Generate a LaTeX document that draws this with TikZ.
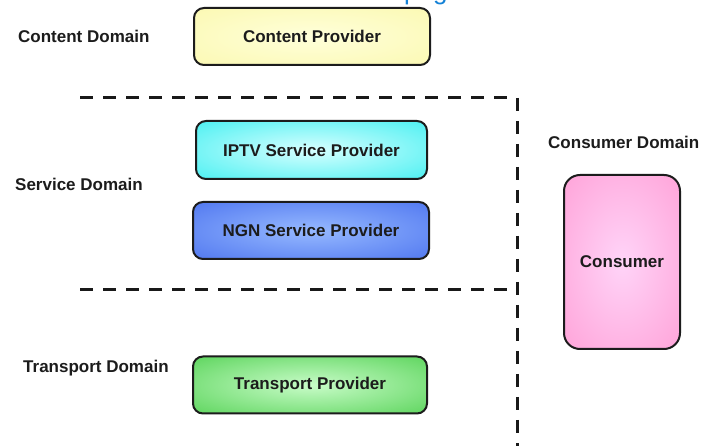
\documentclass[tikz,border=0pt]{standalone}
\usepackage{fontspec}
\setmainfont{Liberation Sans}
\usetikzlibrary{positioning}

% radial fills, lighter in the middle of each box
\pgfdeclareradialshading{yellowglow}{\pgfpoint{0bp}{0bp}}{%
  color(0bp)=(rgb,255:red,255;green,255;blue,218);
  color(46bp)=(rgb,255:red,250;green,247;blue,168);
  color(72bp)=(rgb,255:red,250;green,247;blue,168)}
\pgfdeclareradialshading{cyanglow}{\pgfpoint{0bp}{0bp}}{%
  color(0bp)=(rgb,255:red,215;green,255;blue,255);
  color(46bp)=(rgb,255:red,35;green,236;blue,238);
  color(72bp)=(rgb,255:red,35;green,236;blue,238)}
\pgfdeclareradialshading{blueglow}{\pgfpoint{0bp}{0bp}}{%
  color(0bp)=(rgb,255:red,150;green,185;blue,255);
  color(46bp)=(rgb,255:red,62;green,102;blue,236);
  color(72bp)=(rgb,255:red,62;green,102;blue,236)}
\pgfdeclareradialshading{greenglow}{\pgfpoint{0bp}{0bp}}{%
  color(0bp)=(rgb,255:red,200;green,252;blue,200);
  color(46bp)=(rgb,255:red,64;green,202;blue,64);
  color(72bp)=(rgb,255:red,64;green,202;blue,64)}
\pgfdeclareradialshading{pinkglow}{\pgfpoint{0bp}{0bp}}{%
  color(0bp)=(rgb,255:red,255;green,212;blue,248);
  color(46bp)=(rgb,255:red,255;green,150;blue,208);
  color(72bp)=(rgb,255:red,255;green,150;blue,208)}

\definecolor{inkdark}{RGB}{28,28,28}
\definecolor{linkblue}{RGB}{20,130,215}

\tikzset{
  domainlabel/.style={anchor=west, inner sep=0pt, text=inkdark,
    font=\fontsize{17}{20}\selectfont\bfseries},
  provider/.style={draw=inkdark, line width=2pt, rounded corners=10pt,
    minimum width=235pt, minimum height=57pt, inner sep=0pt, text=inkdark,
    font=\fontsize{17}{20}\selectfont\bfseries},
  divider/.style={draw=black!90, line width=3pt, dash pattern=on 13pt off 10pt}
}

\begin{document}
\begin{tikzpicture}[x=1pt, y=-1pt]
  \useasboundingbox[fill=white] (0,0) rectangle (710,446);

  % domain captions
  \node[domainlabel] (lcontent)   at (18,36)   {Content Domain};
  \node[domainlabel] (lservice)   at (15,184)  {Service Domain};
  \node[domainlabel] (ltransport) at (23,368)  {Transport Domain};
  \node[domainlabel] (lconsumer)  at (548,142) {Consumer Domain};

  % providers
  \node[provider, shading=yellowglow, minimum width=236pt, minimum height=57pt]
    (content) at (312,36.5) {Content Provider};
  \node[provider, shading=cyanglow, minimum width=231pt, minimum height=58pt]
    (iptv) at (311.5,150) {IPTV Service Provider};
  \node[provider, shading=blueglow, minimum width=236pt, minimum height=57pt]
    (ngn) at (311,230.5) {NGN Service Provider};
  \node[provider, shading=greenglow, minimum width=234pt, minimum height=57pt]
    (transport) at (310,385) {Transport Provider};

  % consumer
  \node[provider, shading=pinkglow, rounded corners=16pt,
    minimum width=116pt, minimum height=174pt]
    (consumer) at (622,262) {Consumer};

  % domain boundaries
  \coordinate (topleft)  at (80,98);
  \coordinate (topright) at (517,98);
  \coordinate (bottom)   at (517,452);
  \coordinate (midleft)  at (80,290);
  \coordinate (midright) at (517,290);
  \draw[divider] (topleft) -- (topright) -- (bottom);
  \draw[divider] (midleft) -- (midright);

  % link text running off the top edge
  \begin{scope}
    \clip (0,0) rectangle (710,446);
    \node[anchor=base west, inner sep=0pt, text=linkblue,
      font=\fontsize{26}{30}\selectfont] (link) at (404,0) {page};
  \end{scope}
\end{tikzpicture}
\end{document}
